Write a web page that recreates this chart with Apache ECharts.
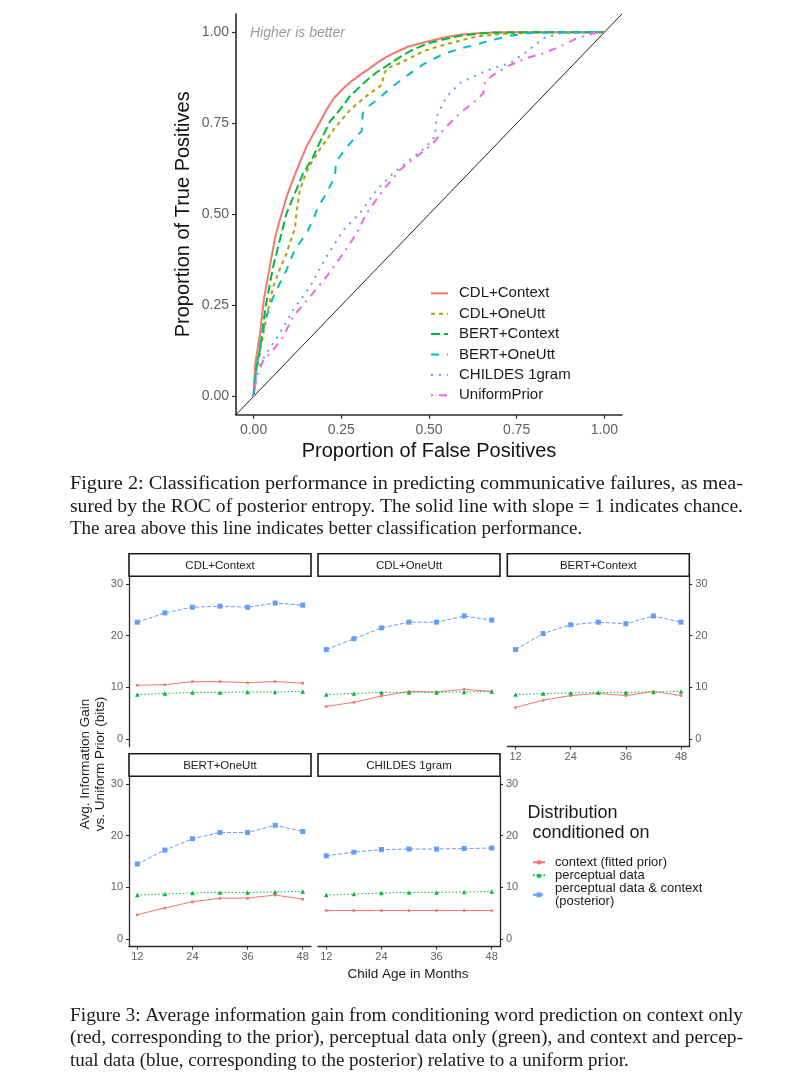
<!DOCTYPE html>
<html><head><meta charset="utf-8">
<script src="https://cdn.jsdelivr.net/npm/echarts@6/dist/echarts.min.js"></script>
<style>html,body{margin:0;padding:0;background:#fff}#c{width:809px;height:1080px}</style>
</head><body><div id="c"></div>
<script>
// ---------- Figure 2 data (ROC curves) ----------
const rocNames = ['CDL+Context', 'CDL+OneUtt', 'BERT+Context', 'BERT+OneUtt', 'CHILDES 1gram', 'UniformPrior'];
const rocTicks = [0, 0.25, 0.5, 0.75, 1];

const cdlContextFPR = [0, 0.005, 0.018, 0.03, 0.047, 0.06, 0.075, 0.095, 0.118, 0.135, 0.151, 0.17, 0.19, 0.208, 0.23, 0.256, 0.28, 0.303, 0.33, 0.351, 0.375, 0.398, 0.44, 0.493, 0.54, 0.588, 0.64, 0.683, 0.75, 0.85, 1.0];
const cdlContextTPR = [0, 0.09, 0.17, 0.27, 0.36, 0.43, 0.485, 0.55, 0.61, 0.65, 0.686, 0.72, 0.755, 0.787, 0.82, 0.846, 0.866, 0.883, 0.9, 0.915, 0.93, 0.942, 0.96, 0.974, 0.985, 0.993, 0.997, 0.999, 1.0, 1.0, 1.0];

const cdlOneUttFPR = [0, 0.005, 0.018, 0.035, 0.056, 0.075, 0.094, 0.11, 0.118, 0.123, 0.132, 0.15, 0.17, 0.19, 0.208, 0.23, 0.256, 0.275, 0.303, 0.332, 0.351, 0.365, 0.372, 0.379, 0.41, 0.446, 0.484, 0.541, 0.6, 0.636, 0.7, 0.8, 1.0];
const cdlOneUttTPR = [0, 0.06, 0.119, 0.21, 0.302, 0.35, 0.393, 0.44, 0.46, 0.51, 0.567, 0.615, 0.65, 0.68, 0.704, 0.735, 0.765, 0.787, 0.81, 0.833, 0.845, 0.855, 0.885, 0.9, 0.912, 0.929, 0.948, 0.965, 0.98, 0.988, 0.995, 0.999, 1.0];

const bertContextFPR = [0, 0.005, 0.018, 0.035, 0.056, 0.075, 0.094, 0.11, 0.123, 0.14, 0.17, 0.19, 0.218, 0.24, 0.256, 0.275, 0.303, 0.332, 0.351, 0.375, 0.408, 0.45, 0.493, 0.54, 0.588, 0.64, 0.683, 0.75, 1.0];
const bertContextTPR = [0, 0.06, 0.128, 0.25, 0.357, 0.43, 0.503, 0.54, 0.57, 0.61, 0.658, 0.7, 0.755, 0.78, 0.8, 0.825, 0.85, 0.876, 0.89, 0.905, 0.926, 0.95, 0.968, 0.98, 0.99, 0.996, 0.999, 1.0, 1.0];

const bertOneUttFPR = [0, 0.009, 0.02, 0.037, 0.055, 0.075, 0.095, 0.113, 0.13, 0.151, 0.17, 0.18, 0.19, 0.208, 0.222, 0.232, 0.235, 0.255, 0.275, 0.29, 0.308, 0.311, 0.33, 0.351, 0.38, 0.408, 0.446, 0.484, 0.54, 0.588, 0.64, 0.683, 0.73, 0.779, 0.85, 1.0];
const bertOneUttTPR = [0, 0.082, 0.15, 0.22, 0.27, 0.311, 0.35, 0.393, 0.42, 0.448, 0.485, 0.51, 0.53, 0.558, 0.585, 0.604, 0.645, 0.67, 0.695, 0.712, 0.728, 0.778, 0.798, 0.814, 0.838, 0.86, 0.887, 0.912, 0.94, 0.955, 0.968, 0.979, 0.99, 0.997, 1.0, 1.0];

const childesFPR = [0, 0.009, 0.037, 0.075, 0.113, 0.161, 0.208, 0.256, 0.303, 0.351, 0.398, 0.446, 0.493, 0.517, 0.522, 0.55, 0.588, 0.636, 0.683, 0.731, 0.779, 0.826, 0.874, 1.0];
const childesTPR = [0, 0.073, 0.119, 0.174, 0.238, 0.302, 0.384, 0.457, 0.503, 0.567, 0.613, 0.65, 0.686, 0.714, 0.769, 0.823, 0.86, 0.883, 0.901, 0.915, 0.947, 0.983, 0.997, 1.0];

const uniformFPR = [0, 0.009, 0.028, 0.056, 0.085, 0.113, 0.161, 0.208, 0.256, 0.294, 0.322, 0.37, 0.417, 0.465, 0.512, 0.541, 0.588, 0.636, 0.655, 0.66, 0.683, 0.731, 0.779, 0.826, 0.874, 0.921, 0.969, 1.0];
const uniformTPR = [0, 0.055, 0.1, 0.128, 0.165, 0.22, 0.274, 0.329, 0.393, 0.448, 0.503, 0.567, 0.622, 0.659, 0.695, 0.732, 0.778, 0.814, 0.833, 0.865, 0.883, 0.91, 0.929, 0.942, 0.961, 0.983, 0.997, 1.0];

// ---------- Figure 3 data (information gain) ----------
const panelNames = ['CDL+Context', 'CDL+OneUtt', 'BERT+Context', 'BERT+OneUtt', 'CHILDES 1gram'];
const distNames = ['context (fitted prior)', 'perceptual data', 'perceptual data & context\n(posterior)'];
const ages = [12, 18, 24, 30, 36, 42, 48];
const ageTicks = [12, 24, 36, 48];
const gainTicks = [0, 10, 20, 30];

const cdlContextPrior = [10.4, 10.5, 11.1, 11.1, 10.9, 11.1, 10.8];
const cdlContextPercept = [8.6, 8.8, 9.0, 9.0, 9.1, 9.1, 9.2];
const cdlContextPost = [22.6, 24.4, 25.5, 25.7, 25.5, 26.3, 25.9];

const cdlOneUttPrior = [6.3, 7.1, 8.3, 9.2, 9.1, 9.6, 9.2];
const cdlOneUttPercept = [8.6, 8.8, 9.0, 9.0, 9.0, 9.1, 9.2];
const cdlOneUttPost = [17.3, 19.4, 21.5, 22.6, 22.6, 23.8, 23.0];

const bertContextPrior = [6.1, 7.5, 8.4, 8.8, 8.4, 9.2, 8.4];
const bertContextPercept = [8.6, 8.8, 8.9, 9.0, 9.0, 9.1, 9.2];
const bertContextPost = [17.3, 20.4, 22.1, 22.6, 22.3, 23.8, 22.6];

const bertOneUttPrior = [4.7, 6.0, 7.2, 7.9, 7.9, 8.5, 7.7];
const bertOneUttPercept = [8.5, 8.7, 8.9, 9.0, 9.0, 9.1, 9.2];
const bertOneUttPost = [14.5, 17.2, 19.4, 20.6, 20.6, 22.0, 20.8];

const childesPrior = [5.5, 5.5, 5.5, 5.5, 5.5, 5.5, 5.5];
const childesPercept = [8.5, 8.7, 8.9, 9.0, 9.0, 9.1, 9.2];
const childesPost = [16.1, 16.8, 17.3, 17.4, 17.4, 17.5, 17.6];

// ---------- captions ----------
const caption2 = [
  'Figure 2: Classification performance in predicting communicative failures, as mea-',
  'sured by the ROC of posterior entropy. The solid line with slope = 1 indicates chance.',
  'The area above this line indicates better classification performance.'
];
const caption3 = [
  'Figure 3: Average information gain from conditioning word prediction on context only',
  '(red, corresponding to the prior), perceptual data only (green), and context and percep-',
  'tual data (blue, corresponding to the posterior) relative to a uniform prior.'
];

// ---------- build ----------
const rocColors = ['#F8766D', '#B79F00', '#00BA38', '#00BFC4', '#619CFF', '#F564E3'];
const rocDash = ['solid', [4, 4], [9, 4], [8, 8], [2, 6], [2, 6, 8, 6]];
const rocX = [cdlContextFPR, cdlOneUttFPR, bertContextFPR, bertOneUttFPR, childesFPR, uniformFPR];
const rocY = [cdlContextTPR, cdlOneUttTPR, bertContextTPR, bertOneUttTPR, childesTPR, uniformTPR];
const panelData = [
  [cdlContextPrior, cdlContextPercept, cdlContextPost],
  [cdlOneUttPrior, cdlOneUttPercept, cdlOneUttPost],
  [bertContextPrior, bertContextPercept, bertContextPost],
  [bertOneUttPrior, bertOneUttPercept, bertOneUttPost],
  [childesPrior, childesPercept, childesPost]
];
const distColors = ['#F8766D', '#00BA38', '#619CFF'];
const distDash = ['solid', [1.5, 2], [4, 2]];
const distSymbol = ['circle', 'triangle', 'rect'];
const distSymbolSize = [3, 4.5, 5];

const tickGray = '#5f5f5f';
const axisCol = '#2b2b2b';

// layout
const roc = { left: 236, top: 14, width: 386, height: 400.7, min: -0.05, max: 1.05 };
const pW = 182, pH = 170.5;
const colLeft = [129, 318, 507.3];
const rowTop = [576.2, 776.2];
const stripH = 22.5;
const panelLayout = [
  { c: 0, r: 0, x: false, y: 'left' },
  { c: 1, r: 0, x: false, y: null },
  { c: 2, r: 0, x: true, y: 'right' },
  { c: 0, r: 1, x: true, y: 'left' },
  { c: 1, r: 1, x: true, y: 'right' }
];

const grids = [{ left: roc.left, top: roc.top, width: roc.width, height: roc.height, outerBoundsMode: 'none' }];
const xAxes = [{
  type: 'value', gridIndex: 0, min: roc.min, max: roc.max,
  axisLine: { show: true, onZero: false, lineStyle: { color: axisCol, width: 1.6 } },
  axisTick: { show: true, length: 4, customValues: rocTicks, lineStyle: { color: axisCol, width: 1.2 } },
  axisLabel: { customValues: rocTicks, formatter: v => v.toFixed(2), fontSize: 14, color: tickGray, margin: 8, fontFamily: 'Liberation Sans' },
  splitLine: { show: false },
  name: 'Proportion of False Positives', nameLocation: 'middle', nameGap: 27,
  nameTextStyle: { fontSize: 20, color: '#111', fontFamily: 'Liberation Sans' }
}];
const yAxes = [{
  type: 'value', gridIndex: 0, min: roc.min, max: roc.max,
  axisLine: { show: true, onZero: false, lineStyle: { color: axisCol, width: 1.6 } },
  axisTick: { show: true, length: 4, customValues: rocTicks, lineStyle: { color: axisCol, width: 1.2 } },
  axisLabel: { customValues: rocTicks, formatter: v => v.toFixed(2), fontSize: 14, color: tickGray, margin: 7, fontFamily: 'Liberation Sans' },
  splitLine: { show: false },
  name: 'Proportion of True Positives', nameLocation: 'middle', nameGap: 43,
  nameTextStyle: { fontSize: 20, color: '#111', fontFamily: 'Liberation Sans' }
}];

const series = [];
series.push({
  type: 'line', name: 'chance', xAxisIndex: 0, yAxisIndex: 0, silent: true,
  data: [[roc.min, roc.min], [roc.max, roc.max]], symbol: 'none',
  lineStyle: { color: '#222', width: 1 }, z: 1
});
rocNames.forEach((n, i) => {
  series.push({
    type: 'line', name: n, xAxisIndex: 0, yAxisIndex: 0, symbol: 'none',
    data: rocX[i].map((x, k) => [x, rocY[i][k]]),
    lineStyle: { color: rocColors[i], width: 2, type: rocDash[i] },
    itemStyle: { color: rocColors[i] }, z: 2 + i
  });
});

const graphics = [];
panelLayout.forEach((p, i) => {
  const gi = i + 1;
  const left = colLeft[p.c], top = rowTop[p.r];
  grids.push({ left, top, width: pW, height: pH, outerBoundsMode: 'none' });
  xAxes.push({
    type: 'value', gridIndex: gi, min: 10.2, max: 49.8,
    axisLine: { show: p.x, onZero: false, lineStyle: { color: axisCol, width: 1.3 } },
    axisTick: { show: p.x, length: 3, customValues: ageTicks, lineStyle: { color: axisCol } },
    axisLabel: { show: p.x, customValues: ageTicks, fontSize: 11, color: tickGray, margin: 5, fontFamily: 'Liberation Sans' },
    splitLine: { show: false }
  });
  yAxes.push({
    type: 'value', gridIndex: gi, min: -1.5, max: 31.5, position: p.y || 'left', show: !!p.y,
    axisLine: { show: !!p.y, onZero: false, lineStyle: { color: axisCol, width: 1.3 } },
    axisTick: { show: !!p.y, length: 3, customValues: gainTicks, lineStyle: { color: axisCol } },
    axisLabel: { show: !!p.y, customValues: gainTicks, fontSize: 11, color: tickGray, margin: 6, fontFamily: 'Liberation Sans' },
    splitLine: { show: false }
  });
  panelData[i].forEach((vals, d) => {
    series.push({
      type: 'line', name: distNames[d], xAxisIndex: gi, yAxisIndex: gi,
      data: ages.map((a, k) => [a, vals[k]]),
      symbol: distSymbol[d], symbolSize: distSymbolSize[d], showSymbol: true,
      lineStyle: { color: distColors[d], width: 1, type: distDash[d] },
      itemStyle: { color: distColors[d] }
    });
  });
  graphics.push({
    type: 'rect', shape: { x: left, y: top - stripH, width: pW, height: stripH },
    style: { fill: '#fff', stroke: '#1a1a1a', lineWidth: 1.6 }
  });
  graphics.push({
    type: 'text', x: left + pW / 2, y: top - stripH / 2 + 0.5,
    style: { text: panelNames[i], fontSize: 11.5, fill: '#1a1a1a', align: 'center', verticalAlign: 'middle', fontFamily: 'Liberation Sans' }
  });
});

graphics.push({
  type: 'text', x: 250, y: 33,
  style: { text: 'Higher is better', fontSize: 14, fontStyle: 'italic', fill: '#9a9a9a', verticalAlign: 'middle', fontFamily: 'Liberation Sans' }
});
graphics.push({
  type: 'text', x: 93, y: 764, rotation: Math.PI / 2,
  style: { text: 'Avg. Information Gain\nvs. Uniform Prior (bits)', fontSize: 13.5, lineHeight: 15, fill: '#1a1a1a', align: 'center', verticalAlign: 'middle', fontFamily: 'Liberation Sans' }
});
graphics.push({
  type: 'text', x: 408, y: 974,
  style: { text: 'Child Age in Months', fontSize: 13.5, fill: '#1a1a1a', align: 'center', verticalAlign: 'middle', fontFamily: 'Liberation Sans' }
});
graphics.push({
  type: 'text', x: 527.5, y: 823,
  style: { text: 'Distribution\n conditioned on', fontSize: 18, lineHeight: 20, fill: '#1a1a1a', align: 'left', verticalAlign: 'middle', fontFamily: 'Liberation Sans' }
});

const capFont = "19px 'Liberation Serif'";
const capLeft = 70, capRight = 743;
const mctx = document.createElement('canvas').getContext('2d');
mctx.font = capFont;
function addCaption(lines, y0) {
  lines.forEach((t, i) => {
    const w = mctx.measureText(t).width;
    const s = (i < lines.length - 1 && w > 0) ? (capRight - capLeft) / w : 1;
    graphics.push({
      type: 'text', x: capLeft, y: y0 + i * 22.5, scaleX: s,
      style: { text: t, fontSize: 19, fontFamily: 'Liberation Serif', fill: '#1a1a1a', verticalAlign: 'middle' }
    });
  });
}
addCaption(caption2, 484.5);
addCaption(caption3, 1016);

const option = {
  animation: false,
  backgroundColor: '#fff',
  grid: grids, xAxis: xAxes, yAxis: yAxes, series,
  legend: [
    {
      data: rocNames, orient: 'vertical', left: 425, top: 280.8,
      itemWidth: 17, itemHeight: 14, itemGap: 5.4, selectedMode: false,
      itemStyle: { opacity: 0 },
      textStyle: { fontSize: 15, lineHeight: 15, color: '#1a1a1a', padding: [0, 0, 0, 6], fontFamily: 'Liberation Sans' }
    },
    {
      data: distNames, orient: 'vertical', left: 527, top: 850.8,
      itemWidth: 12, itemHeight: 6, itemGap: 0, selectedMode: false,
      textStyle: { fontSize: 13, lineHeight: 13, color: '#1a1a1a', padding: [0, 0, 0, 5], fontFamily: 'Liberation Sans' }
    }
  ],
  graphic: graphics
};
const chart = echarts.init(document.getElementById('c'), null, { renderer: 'canvas', width: 809, height: 1080 });
chart.setOption(option);
</script></body></html>
